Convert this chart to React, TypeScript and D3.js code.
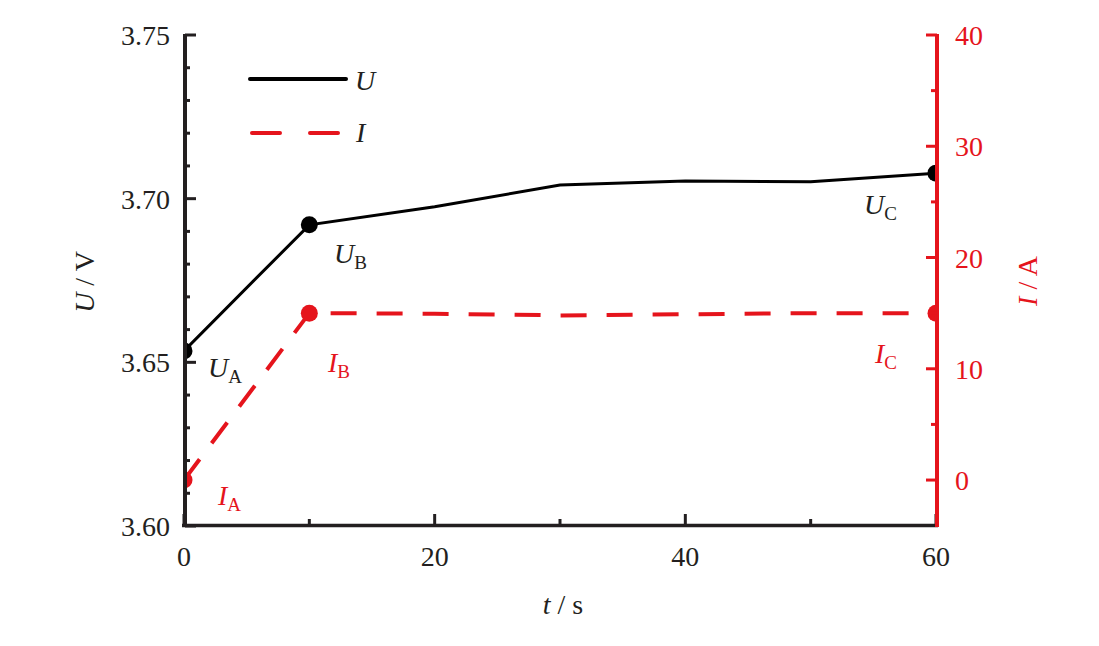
import React from "react";
import * as d3 from "d3";

const times = [0, 10, 20, 30, 40, 50, 60];
const voltage = [3.6535, 3.692, 3.6975, 3.7042, 3.7054, 3.7052, 3.7078];
const current = [0, 15.0, 14.95, 14.8, 14.9, 15.0, 15.0];
const markerIdx = [0, 1, 6];
const xTicks = [0, 20, 40, 60];
const xMinor = [10, 30, 50];
const uTicks = [3.6, 3.65, 3.7, 3.75];
const uMinor = [3.61, 3.62, 3.63, 3.64, 3.66, 3.67, 3.68, 3.69, 3.71, 3.72, 3.73, 3.74];
const iTicks = [0, 10, 20, 30, 40];
const iMinor = [5, 15, 25, 35];

const RED = "#e5141c";
const INK = "#231f20";
const FONT = "'Liberation Serif', 'Times New Roman', serif";

export default function App() {
  const W = 1099, H = 646;
  const x = d3.scaleLinear().domain([0, 60]).range([184, 936]);
  const yU = d3.scaleLinear().domain([3.6, 3.75]).range([526, 35]);
  const yI = d3.scaleLinear().domain([-4.13, 40]).range([526, 35]);

  const lineU = d3.line<number>().x((_, i) => x(times[i])).y((d) => yU(d));
  const lineI = d3.line<number>().x((_, i) => x(times[i])).y((d) => yI(d));

  const fs = 28;
  const label = (
    main: string,
    sub: string,
    px: number,
    py: number,
    color: string
  ) => (
    <text x={px} y={py} fill={color} fontFamily={FONT} fontSize={fs}>
      <tspan fontStyle="italic">{main}</tspan>
      <tspan fontSize={19} dy={6}>{sub}</tspan>
    </text>
  );

  return (
    <svg width={W} height={H} style={{ position: "absolute", left: 0, top: 0, background: "#fff" }}>
      <defs>
        <clipPath id="plot">
          <rect x={184} y={20} width={752} height={506} />
        </clipPath>
      </defs>
      <g clipPath="url(#plot)">
        <path d={lineU(voltage) || ""} fill="none" stroke="#000" strokeWidth={3} />
        <path d={lineI(current) || ""} fill="none" stroke={RED} strokeWidth={4} strokeDasharray="26 20" />
        {markerIdx.map((i) => (
          <circle key={"u" + i} cx={x(times[i])} cy={yU(voltage[i])} r={8.5} fill="#000" />
        ))}
        {markerIdx.map((i) => (
          <circle key={"i" + i} cx={x(times[i])} cy={yI(current[i])} r={8.5} fill={RED} />
        ))}
      </g>

      {/* bottom axis */}
      <line x1={182} x2={938} y1={525.5} y2={525.5} stroke={INK} strokeWidth={3.5} />
      {xTicks.map((t) => (
        <g key={"xt" + t}>
          <line x1={x(t)} x2={x(t)} y1={524} y2={514} stroke={INK} strokeWidth={3} />
          <text x={x(t)} y={566} textAnchor="middle" fill={INK} fontFamily={FONT} fontSize={fs}>{t}</text>
        </g>
      ))}
      {xMinor.map((t) => (
        <line key={"xm" + t} x1={x(t)} x2={x(t)} y1={524} y2={519} stroke={INK} strokeWidth={3} />
      ))}
      <text x={563} y={614} textAnchor="middle" fill={INK} fontFamily={FONT} fontSize={fs}>
        <tspan fontStyle="italic">t</tspan> / s
      </text>

      {/* left axis */}
      <line x1={185} x2={185} y1={34} y2={527} stroke={INK} strokeWidth={4} />
      {uTicks.map((t) => (
        <g key={"ut" + t}>
          <line x1={185} x2={196} y1={yU(t)} y2={yU(t)} stroke={INK} strokeWidth={3} />
          <text x={170} y={yU(t) + 10} textAnchor="end" fill={INK} fontFamily={FONT} fontSize={fs}>{t.toFixed(2)}</text>
        </g>
      ))}
      {uMinor.map((t) => (
        <line key={"um" + t} x1={185} x2={190} y1={yU(t)} y2={yU(t)} stroke={INK} strokeWidth={3} />
      ))}
      <text transform="translate(94,282) rotate(-90)" textAnchor="middle" fill={INK} fontFamily={FONT} fontSize={fs}>
        <tspan fontStyle="italic">U</tspan> / V
      </text>

      {/* right axis */}
      <line x1={937} x2={937} y1={34} y2={527} stroke={RED} strokeWidth={4} />
      {iTicks.map((t) => (
        <g key={"it" + t}>
          <line x1={937} x2={926} y1={yI(t)} y2={yI(t)} stroke={RED} strokeWidth={3} />
          <text x={955} y={yI(t) + 10} textAnchor="start" fill={RED} fontFamily={FONT} fontSize={fs}>{t}</text>
        </g>
      ))}
      {iMinor.map((t) => (
        <line key={"im" + t} x1={937} x2={931} y1={yI(t)} y2={yI(t)} stroke={RED} strokeWidth={3} />
      ))}
      <text transform="translate(1037,281) rotate(-90)" textAnchor="middle" fill={RED} fontFamily={FONT} fontSize={fs}>
        <tspan fontStyle="italic">I</tspan> / A
      </text>

      {/* legend */}
      <line x1={250} x2={346} y1={79} y2={79} stroke="#000" strokeWidth={4} strokeLinecap="round" />
      <text x={355} y={90} fill={INK} fontFamily={FONT} fontSize={fs} fontStyle="italic">U</text>
      <line x1={252} x2={338} y1={133} y2={133} stroke={RED} strokeWidth={4} strokeLinecap="round" strokeDasharray="28 30" />
      <text x={356} y={142} fill={INK} fontFamily={FONT} fontSize={fs} fontStyle="italic">I</text>

      {/* point labels */}
      {label("U", "A", 208, 377, INK)}
      {label("U", "B", 334, 263, INK)}
      {label("U", "C", 864, 214, INK)}
      {label("I", "A", 218, 505, RED)}
      {label("I", "B", 328, 372, RED)}
      {label("I", "C", 875, 363, RED)}
    </svg>
  );
}
